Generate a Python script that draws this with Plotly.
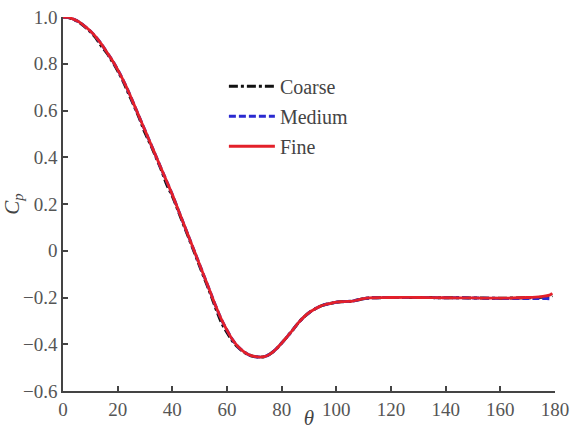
import plotly.graph_objects as go

theta = [0, 2, 4, 6, 8, 10, 12, 14, 16, 18, 20, 22, 24, 26, 28, 30, 32, 34, 36, 38,
         40, 42, 44, 46, 48, 50, 52, 54, 56, 58, 60, 62, 64, 66, 68, 70, 72, 74, 76, 78,
         80, 82, 84, 86, 88, 90, 92, 94, 96, 98, 100, 102, 104, 106, 108, 110, 112, 115,
         120, 130, 140, 150, 160, 170, 175, 178, 179]

cp_fine = [1.000, 0.998, 0.990, 0.978, 0.960, 0.940, 0.915, 0.885, 0.850, 0.815,
           0.775, 0.730, 0.680, 0.625, 0.570, 0.515, 0.460, 0.405, 0.350, 0.295,
           0.240, 0.180, 0.120, 0.060, 0.000, -0.060, -0.120, -0.180, -0.240, -0.295,
           -0.340, -0.380, -0.410, -0.430, -0.445, -0.452, -0.455, -0.452, -0.440, -0.420,
           -0.395, -0.368, -0.340, -0.310, -0.285, -0.265, -0.250, -0.238, -0.230, -0.225,
           -0.220, -0.218, -0.217, -0.215, -0.210, -0.205, -0.202, -0.201,
           -0.200, -0.200, -0.201, -0.202, -0.203, -0.200, -0.196, -0.190, -0.182]

cp_medium = [1.000, 0.998, 0.990, 0.978, 0.960, 0.940, 0.915, 0.885, 0.850, 0.815,
             0.775, 0.730, 0.680, 0.625, 0.570, 0.515, 0.460, 0.405, 0.350, 0.295,
             0.240, 0.180, 0.120, 0.060, 0.000, -0.060, -0.120, -0.180, -0.240, -0.295,
             -0.340, -0.380, -0.410, -0.430, -0.445, -0.452, -0.455, -0.452, -0.440, -0.420,
             -0.395, -0.368, -0.340, -0.310, -0.285, -0.265, -0.250, -0.238, -0.230, -0.225,
             -0.220, -0.218, -0.217, -0.215, -0.210, -0.205, -0.202, -0.201,
             -0.200, -0.200, -0.201, -0.202, -0.204, -0.204, -0.204, -0.205, -0.205]

cp_coarse = [1.000, 0.998, 0.989, 0.977, 0.958, 0.937, 0.911, 0.876, 0.846, 0.810,
             0.770, 0.725, 0.672, 0.620, 0.565, 0.505, 0.455, 0.400, 0.345, 0.282,
             0.234, 0.175, 0.115, 0.055, -0.005, -0.066, -0.126, -0.186, -0.250, -0.308,
             -0.350, -0.386, -0.413, -0.432, -0.446, -0.453, -0.455, -0.452, -0.440, -0.420,
             -0.395, -0.368, -0.340, -0.310, -0.285, -0.265, -0.250, -0.238, -0.230, -0.225,
             -0.220, -0.218, -0.217, -0.215, -0.210, -0.205, -0.202, -0.201,
             -0.200, -0.200, -0.201, -0.202, -0.203, -0.201, -0.199, -0.196, -0.192]

series_names = ["Coarse", "Medium", "Fine"]

x_ticks = [0, 20, 40, 60, 80, 100, 120, 140, 160, 180]
y_ticks = [-0.6, -0.4, -0.2, 0, 0.2, 0.4, 0.6, 0.8, 1.0]
y_ticktext = ["\u22120.6", "\u22120.4", "\u22120.2", "0", "0.2", "0.4", "0.6", "0.8", "1.0"]

FONT = "Liberation Serif"

fig = go.Figure()
fig.add_trace(go.Scatter(x=theta, y=cp_coarse, name=series_names[0], mode="lines",
                         line=dict(color="#111111", width=3, dash="9px,3px,3px,3px", shape="spline"),
                         legendgroup="a"))
fig.add_trace(go.Scatter(x=theta, y=cp_medium, name=series_names[1], mode="lines",
                         line=dict(color="#2a2ad0", width=3, dash="7px,3px", shape="spline"),
                         legendgroup="b"))
fig.add_trace(go.Scatter(x=theta, y=cp_fine, name=series_names[2], mode="lines",
                         line=dict(color="#e3202a", width=2.8, shape="spline"),
                         legendgroup="c"))

axis_common = dict(
    showgrid=False, zeroline=False, showline=True, linecolor="#444444", linewidth=1.5,
    ticks="inside", ticklen=5, tickwidth=1.5, tickcolor="#444444", automargin=False,
    tickfont=dict(family=FONT, size=19, color="#555555"), mirror=False,
)

fig.update_layout(
    width=571, height=430,
    margin=dict(l=63, r=16, t=17, b=39),
    paper_bgcolor="white", plot_bgcolor="white",
    font=dict(family=FONT, color="#444444"),
    showlegend=True,
    legend=dict(x=0.327, y=0.867, xanchor="left", yanchor="top", itemwidth=46,
                bgcolor="rgba(0,0,0,0)", font=dict(family=FONT, size=20, color="#444444"),
                tracegroupgap=1),
    xaxis=dict(range=[0, 180], tickvals=x_ticks, ticktext=[str(v) for v in x_ticks],
               title=dict(text="<i>θ</i>", font=dict(family=FONT, size=21, color="#444444"), standoff=5),
               **axis_common),
    yaxis=dict(range=[-0.6, 1.0], tickvals=y_ticks, ticktext=y_ticktext,
               title=dict(text="<i>C<sub>p</sub></i>", font=dict(family=FONT, size=21, color="#444444"), standoff=0),
               **axis_common),
)

fig.write_html("out.html")
